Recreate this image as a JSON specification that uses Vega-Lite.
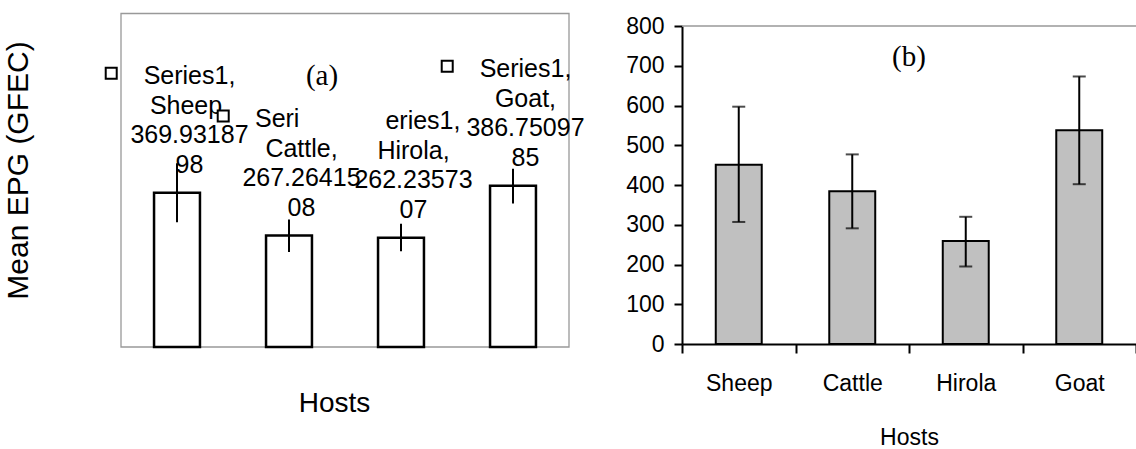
{
  "$schema": "https://vega.github.io/schema/vega-lite/v6.json",
  "background": "white",
  "padding": {"left": 2, "top": 12, "right": 0, "bottom": 0},
  "config": {
    "font": "Liberation Sans",
    "view": {"stroke": null},
    "axis": {"grid": false},
    "axisY": {"labelOverlap": false}
  },
  "datasets": {
    "epg": [
      {"host": "Sheep", "mean": 369.9318798, "lower": 299, "upper": 440.5, "label": "Series1,\nSheep,\n369.93187\n98"},
      {"host": "Cattle", "mean": 267.2641508, "lower": 228, "upper": 306, "label": "Seri\u00a0\u00a0\u00a0\u00a0\u00a0\u00a0\u00a0\u200b\nCattle,\n267.26415\n08"},
      {"host": "Hirola", "mean": 262.2357307, "lower": 229.5, "upper": 295.5, "label": "\u200b\u00a0\u00a0\u2009eries1,\nHirola,\n262.23573\n07"},
      {"host": "Goat", "mean": 386.7509785, "lower": 344, "upper": 427.5, "label": "Series1,\nGoat,\n386.75097\n85"}
    ],
    "gfec": [
      {"host": "Sheep", "mean": 451, "lower": 307, "upper": 597},
      {"host": "Cattle", "mean": 384, "lower": 291, "upper": 477},
      {"host": "Hirola", "mean": 259, "lower": 195, "upper": 320},
      {"host": "Goat", "mean": 538, "lower": 402, "upper": 673}
    ]
  },
  "bounds": "flush",
  "spacing": 113,
  "hconcat": [
    {
      "width": 448,
      "height": 321,
      "title": {"text": "(a)", "font": "Liberation Serif", "fontSize": 29, "fontWeight": "normal", "color": "black", "offset": -78, "dx": -23},
      "data": {"name": "epg"},
      "layer": [
        {
          "data": {"values": [{}]},
          "mark": {"type": "rect", "fill": null, "stroke": "#999999", "strokeWidth": 1.3},
          "encoding": {
            "y": {"datum": 0, "type": "quantitative"},
            "y2": {"datum": 800}
          }
        },
        {
          "mark": {"type": "bar", "fill": "white", "stroke": "black", "strokeWidth": 2.5, "width": {"band": 0.41}},
          "encoding": {
            "x": {"field": "host", "type": "nominal", "sort": null,
                  "scale": {"paddingInner": 0, "paddingOuter": 0},
                  "axis": {"labels": false, "ticks": false, "domain": false, "title": "Hosts",
                           "titleFontSize": 28, "titleFontWeight": "normal", "titleColor": "black",
                           "titlePadding": 42, "titleX": 213}},
            "y": {"field": "mean", "type": "quantitative",
                  "scale": {"domain": [0, 770], "nice": false},
                  "axis": {"labels": false, "ticks": false, "domain": false, "title": "Mean EPG (GFEC)",
                           "titleFontSize": 30, "titleFontWeight": "normal", "titleColor": "black",
                           "titlePadding": 88, "titleY": 144}}
          }
        },
        {
          "mark": {"type": "rule", "color": "black", "strokeWidth": 2},
          "encoding": {
            "x": {"field": "host", "type": "nominal", "sort": null},
            "y": {"field": "lower", "type": "quantitative"},
            "y2": {"field": "upper"}
          }
        },
        {
          "mark": {"type": "text", "lineBreak": "\n", "lineHeight": 29.5, "fontSize": 25, "align": "center",
                   "baseline": "alphabetic", "dx": 12.5, "dy": -108.5, "color": "black"},
          "encoding": {
            "x": {"field": "host", "type": "nominal", "sort": null},
            "y": {"field": "mean", "type": "quantitative"},
            "text": {"field": "label"}
          }
        },
        {
          "transform": [{"filter": "datum.host !== 'Hirola'"}],
          "mark": {"type": "point", "filled": true, "fill": "white", "stroke": "black", "strokeWidth": 2,
                   "opacity": 1, "size": 121,
                   "shape": "M-12.96,-22.73L-10.96,-22.73L-10.96,-20.73L-12.96,-20.73Z"},
          "encoding": {
            "x": {"field": "host", "type": "nominal", "sort": null},
            "y": {"field": "mean", "type": "quantitative"}
          }
        }
      ]
    },
    {
      "width": 454,
      "height": 318,
      "title": {"text": "(b)", "font": "Liberation Serif", "fontSize": 29, "fontWeight": "normal", "color": "black", "offset": -57},
      "data": {"name": "gfec"},
      "layer": [
        {
          "mark": {"type": "bar", "fill": "#c0c0c0", "stroke": "black", "strokeWidth": 2, "width": {"band": 0.405}},
          "encoding": {
            "x": {"field": "host", "type": "nominal", "sort": null,
                  "scale": {"paddingInner": 0, "paddingOuter": 0},
                  "axis": {"labelAngle": 0, "labelFontSize": 23, "labelColor": "black", "labelPadding": 19,
                           "tickBand": "extent", "tickSize": 9, "tickWidth": 2, "tickColor": "black",
                           "domainColor": "black", "domainWidth": 2,
                           "title": "Hosts", "titleFontSize": 23, "titleFontWeight": "normal",
                           "titleColor": "black", "titlePadding": 31}},
            "y": {"field": "mean", "type": "quantitative",
                  "scale": {"domain": [0, 800], "nice": false},
                  "axis": {"values": [0, 100, 200, 300, 400, 500, 600, 700, 800], "tickCount": 12,
                           "labelOverlap": false,
                           "tickSize": 8, "tickWidth": 2, "tickColor": "black",
                           "domainColor": "black", "domainWidth": 2,
                           "labelFontSize": 23, "labelColor": "black", "labelPadding": 10,
                           "title": null}}
          }
        },
        {
          "mark": {"type": "errorbar", "ticks": true, "size": 13, "thickness": 2, "color": "black"},
          "encoding": {
            "x": {"field": "host", "type": "nominal", "sort": null},
            "y": {"field": "lower", "type": "quantitative", "title": null},
            "y2": {"field": "upper"}
          }
        },
        {
          "data": {"values": [{}]},
          "mark": {"type": "rule", "color": "#999999", "strokeWidth": 1.3},
          "encoding": {"y": {"datum": 800, "type": "quantitative", "title": null}}
        }
      ]
    }
  ]
}
